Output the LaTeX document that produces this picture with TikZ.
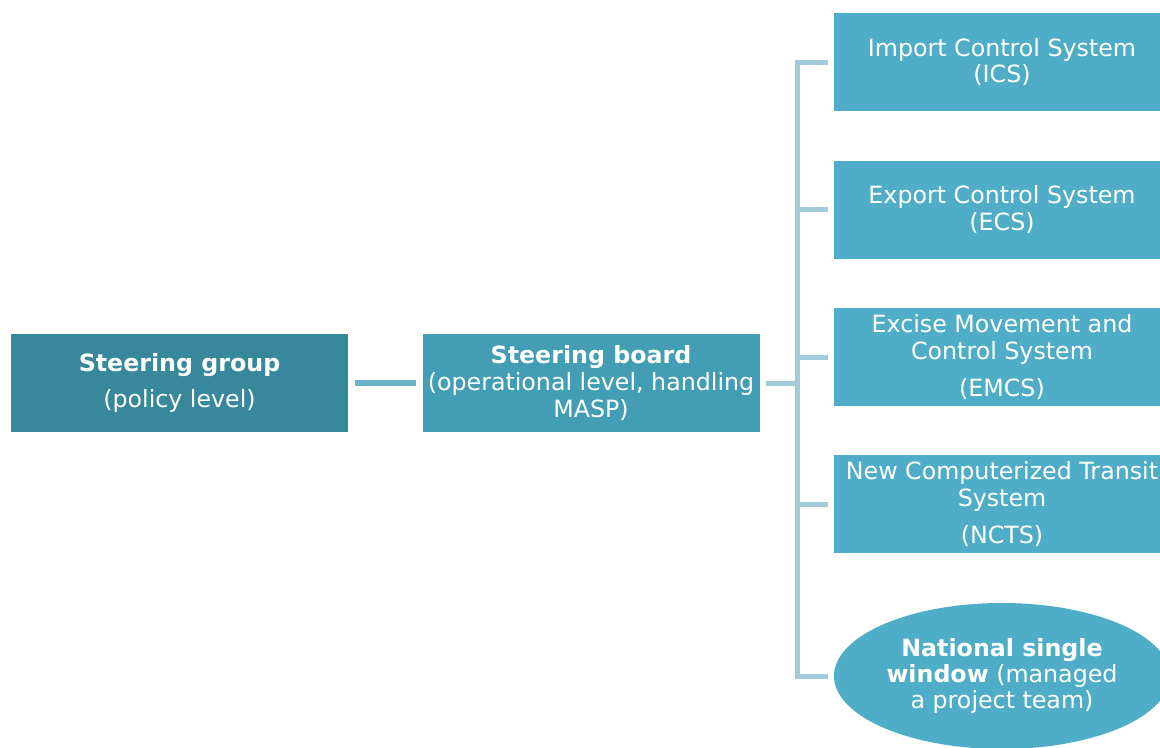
\documentclass[tikz,border=0pt]{standalone}
\usepackage{fontspec}
\setmainfont{DejaVu Sans}
\usetikzlibrary{shapes.geometric,positioning}
\definecolor{groupteal}{HTML}{38889C}
\definecolor{boardteal}{HTML}{439DB5}
\definecolor{systeal}{HTML}{4FADC7}
\definecolor{linkteal}{HTML}{6BB3C8}
\definecolor{bracketblue}{HTML}{A2CBDA}
\tikzset{
     level/.style={rectangle, text=white, align=center, inner sep=0pt,
                   minimum width=252.75pt, minimum height=73.5pt,
                   font=\fontsize{17.8pt}{20pt}\selectfont},
     system/.style={level, fill=systeal, minimum width=252pt},
     team/.style={ellipse, fill=systeal, text=white, align=center, inner sep=0pt,
                  minimum width=252pt, minimum height=109.5pt,
                  font=\fontsize{17.8pt}{19.5pt}\selectfont},
     link/.style={draw=linkteal, line width=4.5pt, shorten <=5pt, shorten >=4.5pt},
     bracket/.style={draw=bracketblue, line width=3.75pt, line join=miter}
     }

\begin{document}
\begin{tikzpicture}[x=0.75pt, y=-0.75pt]
    \useasboundingbox (0,0) rectangle (1160,747);
    \clip (0,0) rectangle (1160,747);

    \node [level, fill=groupteal] (G) at (179.5,383) {\textbf{Steering group}\\[7pt](policy level)};
    \node [level, fill=boardteal] (B) at (591,383) {\textbf{Steering board}\\(operational level, handling\\MASP)};

    \node [system] (ICS) at (1002,62) {Import Control System\\(ICS)};
    \node [system] (ECS) at (1002,209.5) {Export Control System\\(ECS)};
    \node [system] (EMCS) at (1002,357) {Excise Movement and\\Control System\\[8pt](EMCS)};
    \node [system] (NCTS) at (1002,504) {New Computerized Transit\\System\\[8pt](NCTS)};
    \node [team] (NSW) at (1002,676) {\textbf{National single}\\\textbf{window} (managed\\a project team)};

    \coordinate (spine) at (797,383);

    \draw [link] (G) -- (B);
    \draw [bracket, shorten <=4.5pt] (B.east) -- (spine);
    \foreach \sys in {ICS,ECS,EMCS,NCTS,NSW}
        \draw [bracket, shorten <=4.5pt] (\sys.west) -| (spine);
\end{tikzpicture}
\end{document}
